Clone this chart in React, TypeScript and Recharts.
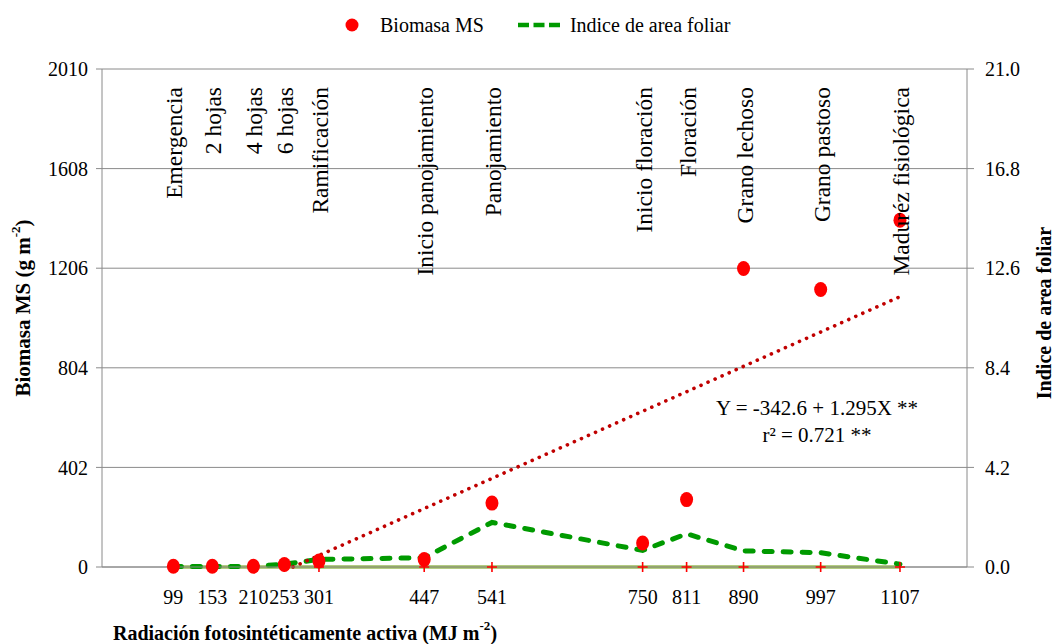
import {
  ComposedChart, Line, Scatter, XAxis, YAxis, CartesianGrid, Legend, ReferenceDot,
} from 'recharts'

// radiación fotosintéticamente activa acumulada (MJ m-2)
const radiacion = [99, 153, 210, 253, 301, 447, 541, 750, 811, 890, 997, 1107]
const biomasa = [3, 3, 3, 10, 24, 30, 258, 97, 272, 1205, 1120, 1400]
const iaf = [0.02, 0.02, 0.03, 0.12, 0.32, 0.39, 1.88, 0.7, 1.4, 0.68, 0.6, 0.12]
const base = [0, 0, 0, 0, 0, 0, 0, 0, 0, 0, 0, 0]
const etapas = [
  'Emergencia', '2 hojas', '4 hojas', '6 hojas', 'Ramificación', 'Inicio panojamiento',
  'Panojamiento', 'Inicio floración', 'Floración', 'Grano lechoso', 'Grano pastoso', 'Maduréz fisiológica',
]
// recta de regresión Y = -342.6 + 1.295X (cortada en Y = 0)
const trendX = [265, 1107]
const trendY = [0, 1091]

const leftTicks = [0, 402, 804, 1206, 1608, 2010]
const rightTicks = [0, 4.2, 8.4, 12.6, 16.8, 21]

const rows = radiacion.map((x, i) => ({ x, biomasa: biomasa[i], iaf: iaf[i], base: base[i] }))
const trend = trendX.map((x, i) => ({ x, trend: trendY[i] }))

const FONT = 'Liberation Serif'
const GRAY = '#8a8a8a'
const tickStyle = { fill: '#000', fontSize: 20, fontFamily: FONT }

function Plus(props: any) {
  const { cx, cy } = props
  if (cx == null || cy == null) return null
  return <path d={`M${cx - 5},${cy}h10M${cx},${cy - 5}v10`} stroke="#FF0000" strokeWidth={1.6} fill="none" />
}

function Dot(props: any) {
  const { cx, cy } = props
  if (cx == null || cy == null) return null
  return <ellipse cx={cx} cy={cy} rx={6.5} ry={7.5} fill="#FF0000" />
}

const vbOf = (p: any) => p.viewBox ?? p

function StageLabel(text: string) {
  return (p: any) => {
    const vb = vbOf(p)
    const x = vb.x + (vb.width || 0) / 2
    return (
      <text transform={`translate(${x + 1},${vb.y + 18}) rotate(-90)`} textAnchor="end"
        dominantBaseline="central" fontSize={23.5} fill="#000" fontFamily={FONT}>{text}</text>
    )
  }
}

function Ecuacion(p: any) {
  const vb = vbOf(p)
  const x = vb.x + (vb.width || 0) / 2
  return (
    <g fontFamily={FONT} fontSize={21} fill="#000" textAnchor="middle">
      <text x={x} y={vb.y} dominantBaseline="central">Y = -342.6 + 1.295X **</text>
      <text x={x} y={vb.y + 27} dominantBaseline="central">r² = 0.721 **</text>
    </g>
  )
}

function LeftTitle(p: any) {
  const vb = vbOf(p)
  return (
    <text transform={`translate(${vb.x + 23},${vb.y + vb.height / 2 - 10}) rotate(-90)`} textAnchor="middle"
      dominantBaseline="central" fontWeight="bold" fontSize={21} fill="#000" fontFamily={FONT}>
      Biomasa MS (g m<tspan dy={-8} fontSize={13}>-2</tspan><tspan dy={8}>)</tspan>
    </text>
  )
}

function RightTitle(p: any) {
  const vb = vbOf(p)
  return (
    <text transform={`translate(${vb.x + 77},${vb.y + vb.height / 2 - 5}) rotate(-90)`} textAnchor="middle"
      dominantBaseline="central" fontWeight="bold" fontSize={20} fill="#000" fontFamily={FONT}>
      Indice de area foliar
    </text>
  )
}

function BottomTitle(p: any) {
  const vb = vbOf(p)
  return (
    <text x={vb.x + 203} y={vb.y + 66} textAnchor="middle" dominantBaseline="central"
      fontWeight="bold" fontSize={20} fill="#000" fontFamily={FONT}>
      Radiación fotosintéticamente activa (MJ m<tspan dy={-8} fontSize={13}>-2</tspan><tspan dy={8}>)</tspan>
    </text>
  )
}

function LegendBox() {
  return (
    <div style={{ display: 'flex', alignItems: 'center', fontSize: 20, fontFamily: FONT, color: '#000', lineHeight: '24px', whiteSpace: 'nowrap' }}>
      <svg width={16} height={16}><circle cx={8} cy={8} r={6.5} fill="#FF0000" /></svg>
      <span style={{ marginLeft: 20 }}>Biomasa MS</span>
      <svg width={44} height={10} style={{ marginLeft: 33 }}>
        <line x1={1} y1={5} x2={43} y2={5} stroke="#009A00" strokeWidth={4.5} strokeDasharray="11 4.5" />
      </svg>
      <span style={{ marginLeft: 9 }}>Indice de area foliar</span>
    </div>
  )
}

export default function App() {
  return (
    <div style={{ position: 'absolute', left: 0, top: 0, width: 1055, height: 644, background: '#fff', fontFamily: FONT }}>
      <ComposedChart width={1055} height={644} data={rows} margin={{ top: 69, right: 0, bottom: 0, left: 0 }}>
        <CartesianGrid vertical={false} stroke={GRAY} yAxisId="left" />
        <XAxis dataKey="x" type="number" domain={[0, 1200]} ticks={radiacion} interval={0}
          tickLine={false} tickSize={6} tickMargin={17} height={77}
          axisLine={{ stroke: GRAY }} tick={tickStyle} label={BottomTitle} />
        <YAxis yAxisId="left" domain={[0, 2010]} ticks={leftTicks} interval={0} width={102}
          tickSize={6} tickMargin={8} axisLine={{ stroke: GRAY }} tickLine={{ stroke: GRAY }}
          tick={tickStyle} label={LeftTitle} />
        <YAxis yAxisId="right" orientation="right" domain={[0, 21]} ticks={rightTicks} interval={0} width={88}
          tickSize={7} tickMargin={11} axisLine={{ stroke: GRAY }} tickLine={{ stroke: GRAY }}
          tickFormatter={(v: number) => v.toFixed(1)} tick={tickStyle} label={RightTitle} />
        <Legend verticalAlign="middle" content={LegendBox} wrapperStyle={{ top: 13, left: 344, width: 'auto', height: 24 }} />

        <Line yAxisId="left" dataKey="base" stroke="#9BBB59" strokeWidth={3.5} dot={<Plus />}
          legendType="none" isAnimationActive={false} />
        <Scatter yAxisId="left" dataKey="biomasa" name="Biomasa MS" fill="#FF0000" shape={<Dot />}
          isAnimationActive={false} />
        <Line yAxisId="right" dataKey="iaf" name="Indice de area foliar" stroke="#009A00" strokeWidth={5}
          strokeDasharray="8 11" strokeLinecap="round" dot={false} isAnimationActive={false} />
        <Line yAxisId="left" data={trend} dataKey="trend" stroke="#C00000" strokeWidth={3.6}
          strokeDasharray="0.1 7.6" strokeLinecap="round" dot={false} legendType="none" isAnimationActive={false} />

        {etapas.map((s, i) => (
          <ReferenceDot key={s} yAxisId="left" x={radiacion[i]} y={2010} r={0} fill="none" stroke="none"
            label={StageLabel(s)} />
        ))}
        <ReferenceDot yAxisId="left" x={992} y={642} r={0} fill="none" stroke="none" label={Ecuacion} />
      </ComposedChart>
    </div>
  )
}
